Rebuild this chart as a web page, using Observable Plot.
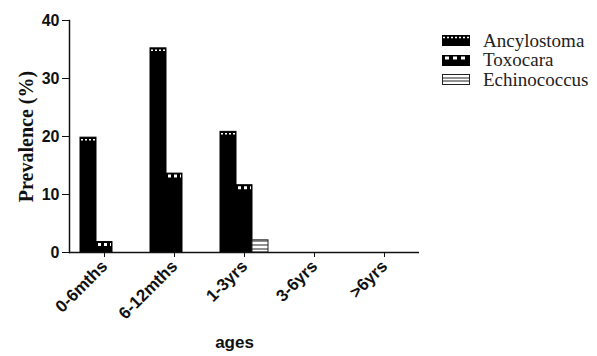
<!DOCTYPE html>
<html><head><meta charset="utf-8">
<script src="https://cdn.jsdelivr.net/npm/d3@7"></script>
<script src="https://cdn.jsdelivr.net/npm/@observablehq/plot@0.6"></script>
<style>
body{margin:0;background:#fff;}
#wrap{position:relative;width:597px;height:356px;}
#legend{position:absolute;left:442px;top:31px;font-family:"Liberation Serif","Times New Roman",serif;font-size:19px;color:#222;}
.row{display:flex;align-items:center;height:19.5px;white-space:nowrap;}
.row svg{margin-right:13px;flex:none}
</style></head><body><div id="wrap"><div id="chart"></div><div id="legend"></div></div>
<script>
const groups = ["0-6mths", "6-12mths", "1-3yrs", "3-6yrs", ">6yrs"];
const series = ["Ancylostoma", "Toxocara", "Echinococcus"];
const ancylostoma = [19.8, 35.2, 20.8, 0, 0];
const toxocara = [1.8, 13.6, 11.6, 0, 0];
const echinococcus = [0, 0, 2.1, 0, 0];
const yTicks = [0, 10, 20, 30, 40];
const yLabel = "Prevalence (%)";
const xLabel = "ages";

const valuesBySeries = {Ancylostoma: ancylostoma, Toxocara: toxocara, Echinococcus: echinococcus};
const rows = [];
series.forEach(s => groups.forEach((g, i) => rows.push({group: g, series: s, value: valuesBySeries[s][i]})));
const of = s => rows.filter(d => d.series === s);
const nz = s => of(s).filter(d => d.value > 0);

const plot = Plot.plot({
  width: 597, height: 356,
  marginLeft: 68, marginRight: 178, marginTop: 20, marginBottom: 104,
  style: {fontFamily: "'Liberation Sans', Arial, sans-serif", color: "#111", background: "white", overflow: "visible"},
  fx: {domain: groups, padding: 0},
  x: {domain: series, paddingInner: 0, paddingOuter: 0.565, axis: null},
  y: {domain: [0, 40], axis: null},
  marks: [
    Plot.barY(of("Ancylostoma"), {fx: "group", x: "series", y: "value", fill: "black", stroke: "black", strokeWidth: 1}),
    Plot.barY(of("Toxocara"), {fx: "group", x: "series", y: "value", fill: "black", stroke: "black", strokeWidth: 1}),
    Plot.barY(of("Echinococcus"), {fx: "group", x: "series", y: "value", fill: "url(#echi)", stroke: "#222", strokeWidth: 1}),
    Plot.tickY(nz("Ancylostoma"), {fx: "group", x: "series", y: "value", stroke: "white", strokeWidth: 1.5, strokeDasharray: "2,2", dy: 2, insetLeft: 1, insetRight: 1}),
    Plot.tickY(nz("Toxocara"), {fx: "group", x: "series", y: "value", stroke: "white", strokeWidth: 3, strokeDasharray: "3,3", dy: 2.5, insetLeft: 2, insetRight: 1}),
    Plot.ruleY([0], {stroke: "#111", strokeWidth: 1.5}),
    Plot.frame({anchor: "left", facetAnchor: "left", stroke: "#111", strokeWidth: 1.5}),
    Plot.axisY({ticks: yTicks, tickSize: 7, tickPadding: 3, fontSize: 16, fontWeight: "bold", label: null}),
    Plot.axisFx({anchor: "bottom", tickRotate: -45, tickSize: 5, tickPadding: 6, fontSize: 17, fontWeight: "bold", label: null}),
    Plot.text([xLabel], {fx: [groups[2]], frameAnchor: "bottom", dx: -10, dy: 95, fontSize: 17, fontWeight: "bold", fill: "#111"}),
    Plot.text([yLabel], {fx: [groups[0]], frameAnchor: "left", textAnchor: "middle", rotate: -90, dx: -43, fontFamily: "'Liberation Serif', serif", fontWeight: "bold", fontSize: 20, fill: "#111"})
  ]
});

const svg = d3.select(plot.tagName === "svg" ? plot : plot.querySelector("svg"));
const defs = svg.insert("defs", ":first-child");
const pat = defs.append("pattern").attr("id", "echi").attr("patternUnits", "userSpaceOnUse").attr("width", 6).attr("height", 4);
pat.append("rect").attr("width", 6).attr("height", 4).attr("fill", "white");
pat.append("line").attr("x1", 0).attr("x2", 6).attr("y1", 1).attr("y2", 1).attr("stroke", "#222").attr("stroke-width", 1);
document.getElementById("chart").append(plot);

// legend
const swatch = {
  Ancylostoma: `<svg width="28" height="11"><rect x="0.5" y="0.5" width="27" height="10" fill="black" stroke="black"/><line x1="1" x2="27" y1="2.5" y2="2.5" stroke="white" stroke-width="1.3" stroke-dasharray="2,2"/></svg>`,
  Toxocara: `<svg width="28" height="11"><rect x="0.5" y="0.5" width="27" height="10" fill="black" stroke="black"/><line x1="3" x2="27" y1="3" y2="3" stroke="white" stroke-width="3" stroke-dasharray="4,4"/></svg>`,
  Echinococcus: `<svg width="28" height="11"><rect x="0.5" y="0.5" width="27" height="10" fill="white" stroke="#222"/><line x1="0" x2="28" y1="4" y2="4" stroke="#222"/><line x1="0" x2="28" y1="7" y2="7" stroke="#222"/></svg>`
};
const legend = document.getElementById("legend");
series.forEach(s => {
  const row = document.createElement("div");
  row.className = "row";
  row.innerHTML = swatch[s] + `<span>${s}</span>`;
  legend.append(row);
});
</script></body></html>
